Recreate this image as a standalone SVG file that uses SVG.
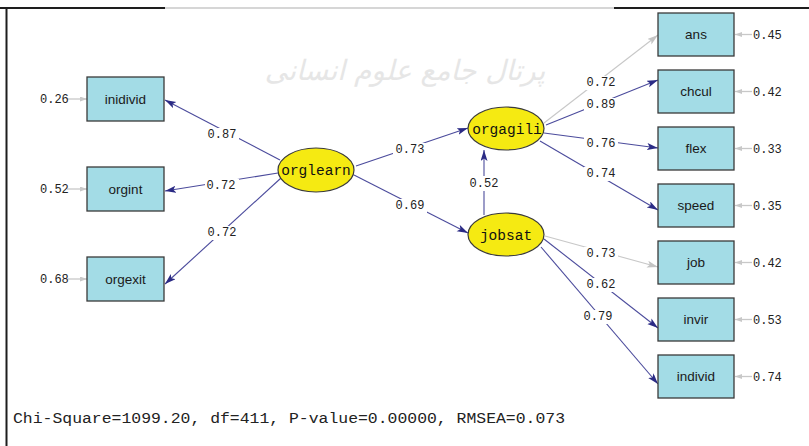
<svg xmlns="http://www.w3.org/2000/svg" width="809" height="446" viewBox="0 0 809 446">
<defs>
<marker id="ah" markerUnits="userSpaceOnUse" markerWidth="12" markerHeight="8" refX="11" refY="3.5" orient="auto">
<path d="M0,0 L11,3.5 L0,7 L2.5,3.5 z" fill="#2b2b85"/>
</marker>
<marker id="ahg" markerUnits="userSpaceOnUse" markerWidth="12" markerHeight="8" refX="11" refY="3.5" orient="auto">
<path d="M0,0 L11,3.5 L0,7 L2.5,3.5 z" fill="#c4c4c4"/>
</marker>
<marker id="ahs" markerUnits="userSpaceOnUse" markerWidth="8" markerHeight="6" refX="7" refY="2.5" orient="auto">
<path d="M0,0 L7,2.5 L0,5 z" fill="#c8c8c8"/>
</marker>
</defs>
<style>
.box{fill:#a3dce6;stroke:#3a3a3a;stroke-width:1.3}
.lat{fill:#f5ea12;stroke:#3a3a3a;stroke-width:1.2}
.bt{font-family:"Liberation Sans",Arial,sans-serif;font-size:13.5px;fill:#1a1a1a;text-anchor:middle;dominant-baseline:central}
.lt{font-family:"Liberation Mono","Courier New",monospace;font-size:14.5px;fill:#111;text-anchor:middle;dominant-baseline:central}
.num{font-family:"Liberation Mono","Courier New",monospace;font-size:12px;fill:#222;dominant-baseline:central}
.c{text-anchor:middle}
.p{stroke:#4b4b9c;stroke-width:1.1;fill:none;marker-end:url(#ah)}
.g{stroke:#c8c8c8;stroke-width:1.1;fill:none;marker-end:url(#ahg)}
.r{stroke:#c8c8c8;stroke-width:1.3;fill:none;marker-end:url(#ahs)}
.bg{fill:#fff}
.wm{font-family:"DejaVu Sans",sans-serif;font-size:28px;fill:#e6e6e6;text-anchor:middle;font-style:italic}
</style>
<rect x="0" y="0" width="809" height="446" fill="#fff"/>
<g id="watermark">
<text class="wm" x="405" y="80" direction="rtl">پرتال جامع علوم انسانی</text>
</g>
<g id="frame">
<line x1="0" y1="8" x2="809" y2="8" stroke="#d6d6d6" stroke-width="2"/>
<line x1="0" y1="8" x2="165" y2="8" stroke="#1e1e1e" stroke-width="2"/>
<line x1="614" y1="8" x2="809" y2="8" stroke="#1e1e1e" stroke-width="2"/>
<line x1="6.5" y1="7" x2="6.5" y2="446" stroke="#1e1e1e" stroke-width="2"/>
</g>
<g id="connectors">
<line class="p" x1="280" y1="160" x2="165" y2="100"/>
<line class="p" x1="278" y1="173" x2="165" y2="191"/>
<line class="p" x1="281" y1="178" x2="165" y2="284"/>
<line class="p" x1="356" y1="166" x2="468" y2="128"/>
<line class="p" x1="354" y1="175" x2="468" y2="233"/>
<line class="p" x1="484" y1="215" x2="484" y2="150"/>
<line class="g" x1="544" y1="123" x2="658" y2="35"/>
<line class="p" x1="546" y1="125" x2="658" y2="80"/>
<line class="p" x1="544" y1="133" x2="658" y2="148"/>
<line class="p" x1="540" y1="141" x2="658" y2="210"/>
<line class="g" x1="545" y1="236" x2="658" y2="267"/>
<line class="p" x1="544" y1="239" x2="658" y2="328"/>
<line class="p" x1="541" y1="247" x2="658" y2="384"/>
<line class="r" x1="67" y1="99" x2="87" y2="99"/>
<line class="r" x1="67" y1="189" x2="87" y2="189"/>
<line class="r" x1="67" y1="279" x2="87" y2="279"/>
<line class="r" x1="752" y1="34.5" x2="735" y2="34.5"/>
<line class="r" x1="752" y1="91.5" x2="735" y2="91.5"/>
<line class="r" x1="752" y1="148.5" x2="735" y2="148.5"/>
<line class="r" x1="752" y1="205.5" x2="735" y2="205.5"/>
<line class="r" x1="752" y1="262.5" x2="735" y2="262.5"/>
<line class="r" x1="752" y1="319.5" x2="735" y2="319.5"/>
<line class="r" x1="752" y1="376.5" x2="735" y2="376.5"/>
<g id="path-labels">
<rect class="bg" x="205" y="128" width="34" height="14"/><text class="num c" x="222" y="135">0.87</text>
<rect class="bg" x="205" y="179" width="34" height="14"/><text class="num c" x="221" y="186">0.72</text>
<rect class="bg" x="205" y="226" width="34" height="14"/><text class="num c" x="222" y="233">0.72</text>
<rect class="bg" x="393" y="143" width="34" height="14"/><text class="num c" x="410" y="150">0.73</text>
<rect class="bg" x="393" y="199" width="34" height="14"/><text class="num c" x="410" y="206">0.69</text>
<rect class="bg" x="467" y="176" width="34" height="15"/><text class="num c" x="484" y="184">0.52</text>
<rect class="bg" x="584" y="76" width="34" height="14"/><text class="num c" x="601" y="83">0.72</text>
<rect class="bg" x="584" y="98" width="34" height="14"/><text class="num c" x="601" y="105">0.89</text>
<rect class="bg" x="584" y="137" width="34" height="14"/><text class="num c" x="601" y="144">0.76</text>
<rect class="bg" x="584" y="167" width="34" height="14"/><text class="num c" x="601" y="174">0.74</text>
<rect class="bg" x="584" y="247" width="34" height="14"/><text class="num c" x="601" y="254">0.73</text>
<rect class="bg" x="584" y="278" width="34" height="14"/><text class="num c" x="601" y="285">0.62</text>
<rect class="bg" x="581" y="310" width="34" height="14"/><text class="num c" x="598" y="317">0.79</text>
</g>
</g>
<g id="residuals">
<text class="num" x="40" y="100">0.26</text>
<text class="num" x="40" y="190">0.52</text>
<text class="num" x="40" y="280">0.68</text>
<text class="num" x="753" y="35.5">0.45</text>
<text class="num" x="753" y="92.5">0.42</text>
<text class="num" x="753" y="149.5">0.33</text>
<text class="num" x="753" y="206.5">0.35</text>
<text class="num" x="753" y="263.5">0.42</text>
<text class="num" x="753" y="320.5">0.53</text>
<text class="num" x="753" y="377.5">0.74</text>
</g>
<g id="inidivid"><rect class="box" x="87" y="77" width="77" height="44"/><text class="bt" x="125.5" y="99">inidivid</text></g>
<g id="orgint"><rect class="box" x="87" y="167" width="77" height="44"/><text class="bt" x="125.5" y="189">orgint</text></g>
<g id="orgexit"><rect class="box" x="87" y="257" width="77" height="44"/><text class="bt" x="125.5" y="279">orgexit</text></g>
<g id="orglearn"><ellipse class="lat" cx="316" cy="170" rx="38" ry="22"/><text class="lt" x="316" y="171">orglearn</text></g>
<g id="orgagili"><ellipse class="lat" cx="506" cy="128.5" rx="38" ry="21.5"/><text class="lt" x="507" y="129.5">orgagili</text></g>
<g id="jobsat"><ellipse class="lat" cx="506" cy="234.5" rx="38" ry="21.5"/><text class="lt" x="506" y="235.5">jobsat</text></g>
<g id="ans"><rect class="box" x="658" y="13" width="76" height="43"/><text class="bt" x="696" y="34.5">ans</text></g>
<g id="chcul"><rect class="box" x="658" y="70" width="76" height="43"/><text class="bt" x="696" y="91.5">chcul</text></g>
<g id="flex"><rect class="box" x="658" y="127" width="76" height="43"/><text class="bt" x="696" y="148.5">flex</text></g>
<g id="speed"><rect class="box" x="658" y="184" width="76" height="43"/><text class="bt" x="696" y="205.5">speed</text></g>
<g id="job"><rect class="box" x="658" y="241" width="76" height="43"/><text class="bt" x="696" y="262.5">job</text></g>
<g id="invir"><rect class="box" x="658" y="298" width="76" height="43"/><text class="bt" x="696" y="319.5">invir</text></g>
<g id="individ"><rect class="box" x="658" y="355" width="76" height="43"/><text class="bt" x="696" y="376.5">individ</text></g>
<g id="fit">
<text x="13" y="423" font-family="'Liberation Mono','Courier New',monospace" font-size="15.5" fill="#222" textLength="552" lengthAdjust="spacingAndGlyphs">Chi-Square=1099.20, df=411, P-value=0.00000, RMSEA=0.073</text>
</g>
</svg>
